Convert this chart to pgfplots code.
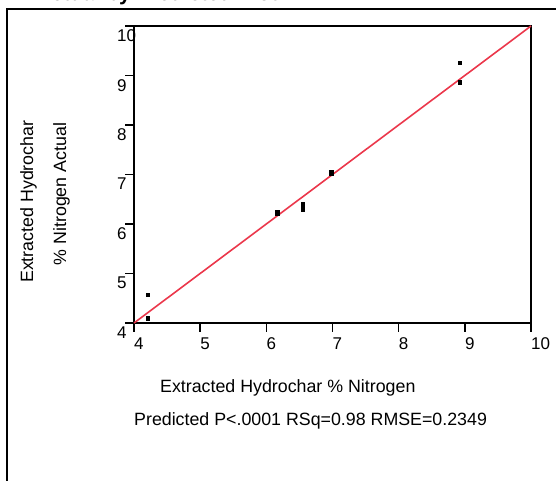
\documentclass[border=0pt]{standalone}
\usepackage{pgfplots}
\pgfplotsset{compat=1.18}
\usepackage{fontspec}
\setmainfont{Liberation Sans}
\definecolor{fitred}{RGB}{235,55,75}
\begin{document}
\begin{tikzpicture}[x=1pt,y=1pt]
% outer frame (cropped)
\draw[line width=1.6pt] (7,-10) -- (7,472) -- (570,472);
% title (cropped at top)
\node[anchor=base west,font=\fontsize{21}{24}\selectfont\bfseries,inner sep=0pt] at (36,480.5) {Actual by Predicted Plot};
\begin{axis}[
  at={(134pt,158pt)}, anchor=origin,
  scale only axis, width=397pt, height=297pt,
  xmin=4, xmax=10, ymin=4, ymax=10,
  xtick={4,5,6,7,8,9,10}, ytick={4,5,6,7,8,9,10},
  tick pos=left, tick align=outside,
  major tick length=9pt,
  axis line style={line width=1.6pt},
  every tick/.style={line width=1.6pt,black},
  /pgf/number format/assume math mode=true,
  ticklabel style={font=\fontsize{17}{20}\selectfont, inner sep=0pt},
  xticklabel style={anchor=north west, xshift=0pt, yshift=-5.5pt},
  yticklabel style={anchor=north west, xshift=-8pt, yshift=-3.5pt},
  clip=false,
]
\addplot[fitred, line width=1.6pt] coordinates {(4,4) (10,10)};
\addplot[only marks, mark=square*, mark size=1.8pt, black] coordinates {
(4.21,4.57) (4.21,4.10) (6.16,6.25) (6.16,6.22) (6.55,6.41) (6.55,6.35) (6.55,6.29)
(6.98,7.06) (6.98,7.02) (8.92,9.26) (8.92,8.86)};
\end{axis}
\node[anchor=base west,font=\fontsize{17.8}{20}\selectfont,inner sep=0pt] at (160,88.5) {Extracted Hydrochar \% Nitrogen};
\node[anchor=base west,font=\fontsize{17.8}{20}\selectfont,inner sep=0pt] at (134,55) {Predicted P<.0001 RSq=0.98 RMSE=0.2349};
\node[rotate=90,font=\fontsize{17.8}{20}\selectfont,inner sep=0pt] at (28.5,279.3) {Extracted Hydrochar};
\node[rotate=90,font=\fontsize{17.8}{20}\selectfont,inner sep=0pt] at (61.5,287) {\% Nitrogen Actual};
\pgfresetboundingbox
\useasboundingbox (0,0) rectangle (556,481);
\end{tikzpicture}
\end{document}
